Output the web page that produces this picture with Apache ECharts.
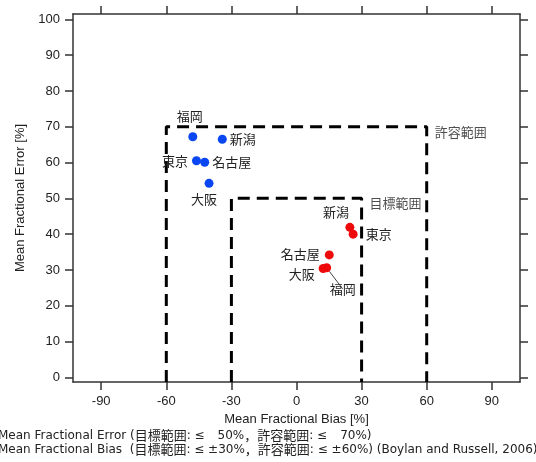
<!DOCTYPE html>
<html><head><meta charset="utf-8">
<script src="https://cdn.jsdelivr.net/npm/echarts@6/dist/echarts.min.js"></script>
<style>html,body{margin:0;padding:0;background:#fff}#c{width:536px;height:462px}</style>
</head><body><div id="c"></div>
<script>
// ---- data ----
const cities = ['福岡', '新潟', '東京', '名古屋', '大阪'];
const blueMFB = [-47.8, -34.2, -46.1, -42.3, -40.3];
const blueMFE = [67.2, 66.5, 60.5, 60.1, 54.2];
const redMFB = [13.9, 24.6, 26.1, 15.1, 12.3];
const redMFE = [30.6, 41.9, 40.0, 34.2, 30.4];
const xTicks = [-90, -60, -30, 0, 30, 60, 90];
const yTicks = [0, 10, 20, 30, 40, 50, 60, 70, 80, 90, 100];
const goalBias = 30, goalError = 50;      // 目標範囲
const critBias = 60, critError = 70;      // 許容範囲
const xMin = -103, xMax = 103, yMin = -1.3, yMax = 101.5;
const note1 = 'Mean Fractional Error (目標範囲: ≤　50%，許容範囲: ≤　70%)';
const note2 = 'Mean Fractional Bias  (目標範囲: ≤ ±30%，許容範囲: ≤ ±60%) (Boylan and Russell, 2006)';

// label placement (style)
const blueLabelPos = {
  '福岡': {position: 'top', offset: [-3, -5]},
  '新潟': {position: 'right', offset: [-2, 0]},
  '東京': {position: 'left', offset: [1, 0]},
  '名古屋': {position: 'right', offset: [-2, 0]},
  '大阪': {position: 'bottom', offset: [-5, 0]}
};
const redLabelPos = {
  '福岡': {position: 'bottom', offset: [16, 5]},
  '新潟': {position: 'top', offset: [-14, 1]},
  '東京': {position: 'right', offset: [3, 0]},
  '名古屋': {position: 'left', offset: [0, -1]},
  '大阪': {position: 'left', offset: [1, 6]}
};
const leaderCity = '福岡';

const FONT = '"Liberation Sans", Arial, "Noto Sans CJK JP", sans-serif';
const JFONT = '"Noto Sans CJK JP", sans-serif';
const NFONT = '"DejaVu Sans", "Noto Sans CJK JP", sans-serif';

function pts(xs, ys, pos, leader) {
  return cities.map((c, i) => ({
    name: c, value: [xs[i], ys[i]],
    label: Object.assign({show: true, formatter: c, color: '#222', fontSize: 13, fontFamily: JFONT}, pos[c]),
    labelLine: {show: c === leader, length2: 0, lineStyle: {color: '#444', width: 1}}
  }));
}
function rect(b, e) {
  return [[-b, yMin], [-b, e], [b, e], [b, yMin]];
}
// wrap CJK runs in rich-text tags so they can use a slightly larger size
function richify(s) {
  return s.replace(/([\u3000-\u9fff\uff00-\uffef]+)|([^\u3000-\u9fff\uff00-\uffef]+)/g,
    (m, cj, la) => cj ? '{j|' + cj + '}' : '{a|' + la + '}');
}
const noteRich = {
  a: {fontFamily: NFONT, fontSize: 12, fill: '#222', color: '#222'},
  j: {fontFamily: JFONT, fontSize: 13, fill: '#222', color: '#222'}
};

const chart = echarts.init(document.getElementById('c'), null, {renderer: 'canvas'});
const axisLineStyle = {color: '#333', width: 1.5};
chart.setOption({
  animation: false,
  grid: {left: 73, right: 16, top: 14, bottom: 80},
  xAxis: [{
    type: 'value', min: xMin, max: xMax, position: 'bottom',
    name: 'Mean Fractional Bias [%]', nameLocation: 'middle', nameGap: 28,
    nameTextStyle: {fontSize: 13, color: '#222', fontFamily: FONT},
    axisLine: {show: true, onZero: false, lineStyle: axisLineStyle},
    axisTick: {show: true, customValues: xTicks, length: 8, lineStyle: axisLineStyle},
    axisLabel: {customValues: xTicks, margin: 13, fontSize: 13, color: '#222', fontFamily: FONT},
    splitLine: {show: false}
  }, {
    type: 'value', min: xMin, max: xMax, position: 'top',
    axisLine: {show: true, onZero: false, lineStyle: axisLineStyle},
    axisTick: {show: true, customValues: xTicks, length: 8, lineStyle: axisLineStyle},
    axisLabel: {show: false}, splitLine: {show: false}
  }],
  yAxis: [{
    type: 'value', min: yMin, max: yMax, position: 'left',
    name: 'Mean Fractional Error [%]', nameLocation: 'middle', nameGap: 45, nameRotate: 90,
    nameTextStyle: {fontSize: 13, color: '#222', fontFamily: FONT},
    axisLine: {show: true, onZero: false, lineStyle: axisLineStyle},
    axisTick: {show: true, customValues: yTicks, length: 8, lineStyle: axisLineStyle},
    axisLabel: {customValues: yTicks, margin: 13, fontSize: 13, color: '#222', fontFamily: FONT},
    splitLine: {show: false}
  }, {
    type: 'value', min: yMin, max: yMax, position: 'right',
    axisLine: {show: true, onZero: false, lineStyle: axisLineStyle},
    axisTick: {show: true, customValues: yTicks, length: 8, lineStyle: axisLineStyle},
    axisLabel: {show: false}, splitLine: {show: false}
  }],
  series: [
    {type: 'line', data: rect(critBias, critError), symbol: 'none', silent: true,
     lineStyle: {color: '#000', width: 3, type: [12, 7]}, z: 1},
    {type: 'line', data: rect(goalBias, goalError), symbol: 'none', silent: true,
     lineStyle: {color: '#000', width: 3, type: [12, 7]}, z: 1},
    {type: 'scatter', symbolSize: 0, silent: true, z: 1,
     data: [
       {value: [critBias, critError], label: {show: true, formatter: '許容範囲', position: 'right', offset: [3, 5], fontSize: 13, color: '#222', fontFamily: JFONT}},
       {value: [goalBias, goalError], label: {show: true, formatter: '目標範囲', position: 'right', offset: [3, 5], fontSize: 13, color: '#222', fontFamily: JFONT}}
     ]},
    {type: 'scatter', symbol: 'circle', symbolSize: 9, itemStyle: {color: '#0a46f2', opacity: 1}, z: 3,
     data: pts(blueMFB, blueMFE, blueLabelPos, null)},
    {type: 'scatter', symbol: 'circle', symbolSize: 9, itemStyle: {color: '#ee0a0a', opacity: 1}, z: 3,
     data: pts(redMFB, redMFE, redLabelPos, leaderCity)}
  ],
  graphic: [
    {type: 'text', left: -2, top: 429, style: {text: richify(note1), rich: noteRich, fill: '#222'}},
    {type: 'text', left: -2, top: 443, style: {text: richify(note2), rich: noteRich, fill: '#222'}}
  ]
});
</script></body></html>
